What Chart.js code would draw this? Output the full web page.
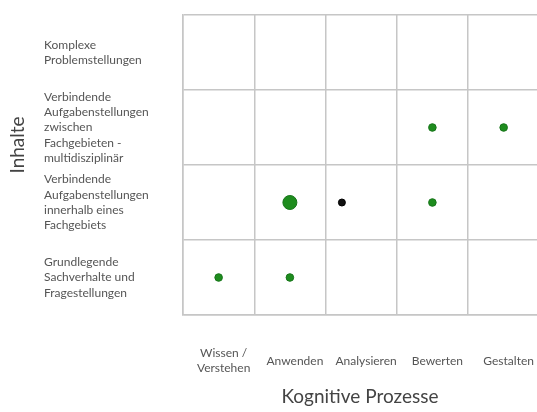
<!DOCTYPE html>
<html>
<head>
<meta charset="utf-8">
<script src="https://cdn.jsdelivr.net/npm/chart.js@4"></script>
<style>
  html, body { margin: 0; padding: 0; background: #fff; overflow: hidden; }
  #wrap { width: 537px; height: 412px; }
</style>
</head>
<body>
<div id="wrap"><canvas id="c" width="537" height="412"></canvas></div>
<script>
// Categories
const prozesse = [["Wissen /", "Verstehen"], "Anwenden", "Analysieren", "Bewerten", "Gestalten"];
const inhalte = [
  ["Grundlegende", "Sachverhalte und", "Fragestellungen"],
  ["Verbindende", "Aufgabenstellungen", "innerhalb eines", "Fachgebiets"],
  ["Verbindende", "Aufgabenstellungen", "zwischen", "Fachgebieten -", "multidisziplinär"],
  ["Komplexe", "Problemstellungen"]
];
const xTitle = "Kognitive Prozesse";
const yTitle = "Inhalte";

// Series: green points (x = process index, y = content index, r = bubble size)
const greenX = [0, 1, 1, 3, 3, 4];
const greenY = [0, 0, 1, 1, 2, 2];
const greenR = [3.8, 3.8, 7, 3.8, 3.8, 3.8];
// Series: black point
const blackX = [1.73];
const blackY = [1];
const blackR = [3.5];

const toPts = (xs, ys, rs) => xs.map((x, i) => ({ x: x, y: ys[i], r: rs[i] }));

const labelFont = { family: "Lato", size: 12 };
const titleFont = { family: "Lato", size: 19 };
const gridColor = "#c6c6c6";

const titleShift = {
  id: "titleShift",
  afterLayout(chart) {
    const s = chart.scales.yT;
    s.bottom = s.bottom - 40;
  }
};

new Chart(document.getElementById("c"), {
  type: "bubble",
  data: {
    datasets: [
      {
        data: toPts(greenX, greenY, greenR),
        backgroundColor: "#1e8c1e",
        borderColor: "#17751a",
        borderWidth: 1
      },
      {
        data: toPts(blackX, blackY, blackR),
        backgroundColor: "#111111",
        borderColor: "#000000",
        borderWidth: 1
      }
    ]
  },
  options: {
    responsive: false,
    animation: false,
    events: [],
    layout: { autoPadding: false, padding: { top: 15, left: 0, right: 0, bottom: 0 } },
    plugins: { legend: { display: false }, tooltip: { enabled: false } },
    scales: {
      x: {
        type: "linear",
        min: -0.5,
        max: 4.468,
        afterBuildTicks: (axis) => { axis.ticks = prozesse.map((p, i) => ({ value: i })); },
        afterFit: (axis) => { axis.height = 97; axis.paddingLeft = 0; axis.paddingRight = 0; },
        grid: { offset: true, color: gridColor, lineWidth: 1.5, drawTicks: false },
        border: { color: gridColor, width: 1.5 },
        ticks: {
          autoSkip: false,
          maxRotation: 0,
          minRotation: 0,
          padding: 38,
          labelOffset: 5,
          crossAlign: "center",
          color: "#555",
          font: Object.assign({ lineHeight: 1.3 }, labelFont),
          callback: (v, i) => prozesse[i]
        },
        title: {
          display: true,
          text: xTitle,
          color: "#444",
          font: Object.assign({ lineHeight: 1.2 }, titleFont),
          padding: { top: 0, bottom: 4 }
        }
      },
      y: {
        type: "linear",
        min: -0.5,
        max: 3.5,
        weight: 0,
        afterBuildTicks: (axis) => { axis.ticks = inhalte.map((c, i) => ({ value: i })); },
        afterFit: (axis) => { axis.width = 139; axis.paddingTop = 0; axis.paddingBottom = 0; },
        grid: { offset: true, color: gridColor, lineWidth: 1.5, drawTicks: false },
        border: { color: gridColor, width: 1.5 },
        ticks: {
          autoSkip: false,
          crossAlign: "far",
          color: "#555",
          font: Object.assign({ lineHeight: 1.28 }, labelFont),
          callback: (v, i) => inhalte[i]
        }
      },
      yT: {
        type: "linear",
        position: "left",
        weight: 1,
        afterFit: (axis) => { axis.width = 44; axis.paddingTop = 0; axis.paddingBottom = 0; },
        grid: { display: false },
        border: { display: false },
        ticks: { display: false },
        title: {
          display: true,
          text: yTitle,
          color: "#444",
          font: Object.assign({ lineHeight: 1.2 }, titleFont),
          padding: { top: 6, bottom: 0 }
        }
      }
    }
  },
  plugins: [titleShift]
});
</script>
</body>
</html>
